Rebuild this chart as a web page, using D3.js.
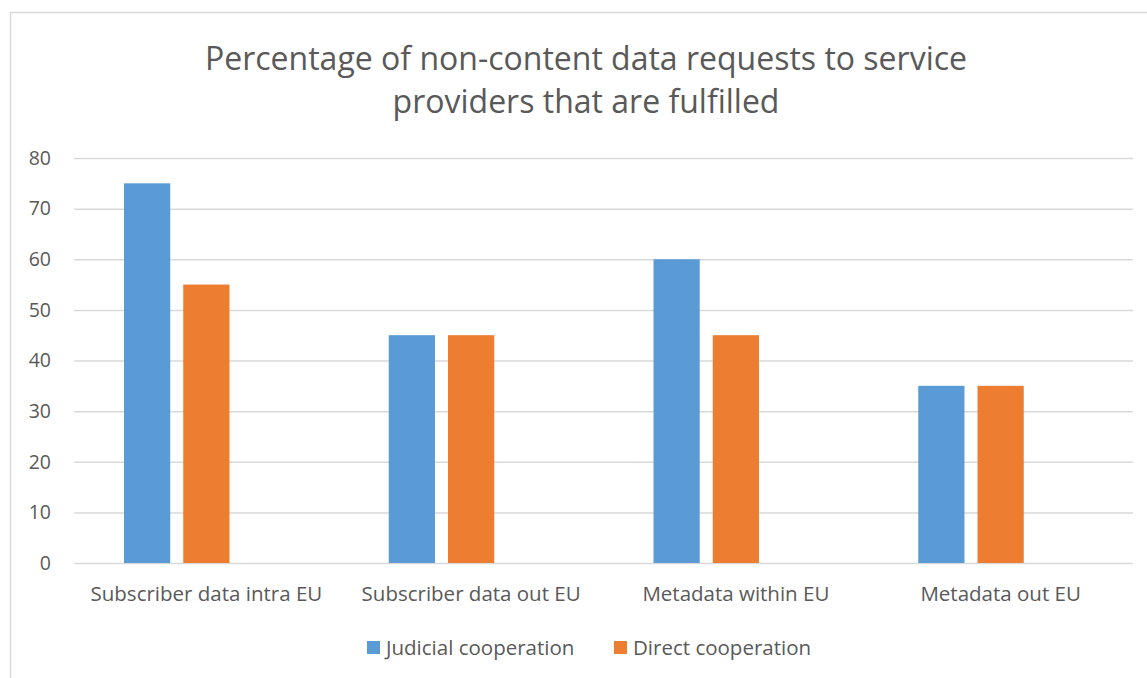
<!DOCTYPE html>
<html>
<head>
<meta charset="utf-8">
<script src="https://cdn.jsdelivr.net/npm/d3@7"></script>
<style>
  body { margin: 0; background: #fff; }
  text { font-family: "Open Sans", "Noto Sans", sans-serif; fill: #595959; }
</style>
</head>
<body>
<div id="viz"></div>
<script>
var categories = ['Subscriber data intra EU', 'Subscriber data out EU', 'Metadata within EU', 'Metadata out EU'];
var seriesNames = ['Judicial cooperation', 'Direct cooperation'];
var judicial = [75, 45, 60, 35];
var direct = [55, 45, 45, 35];
var yTicks = [0, 10, 20, 30, 40, 50, 60, 70, 80];
var titleLines = ['Percentage of non-content data requests to service', 'providers that are fulfilled'];

var width = 1147,
    height = 678;

var colors = ['#5B9BD5', '#ED7D31'];

var svg = d3.select('#viz').append('svg')
  .attr('width', width)
  .attr('height', height)

// chart frame
svg.append('path')
  .attr('d', 'M10.5,' + height + 'V12.5H' + width)
  .attr('fill', 'none')
  .attr('stroke', '#d9d9d9')
  .attr('stroke-width', 1.5)

var plotLeft = 74, plotRight = 1133, plotTop = 158, plotBottom = 563;

var y = d3.scaleLinear()
  .domain([0, 80])
  .range([plotBottom, plotTop])

var x0 = d3.scaleBand()
  .domain(categories)
  .range([plotLeft, plotRight])
  .paddingInner(0)
  .paddingOuter(0)

// excel keeps a third empty series slot in each group
var x1 = d3.scaleBand()
  .domain(['judicial', 'direct', 'empty'])
  .range([50, x0.bandwidth() - 50])
  .paddingInner(0.22)

// gridlines
svg.append('g').selectAll('line')
  .data(yTicks)
  .enter()
  .append('line')
  .attr('x1', plotLeft)
  .attr('x2', plotRight)
  .attr('y1', function(d){ return y(d) + 0.5 })
  .attr('y2', function(d){ return y(d) + 0.5 })
  .attr('stroke', '#d9d9d9')
  .attr('stroke-width', 1.5)

// y labels
svg.append('g').selectAll('text')
  .data(yTicks)
  .enter()
  .append('text')
  .attr('x', 51)
  .attr('y', function(d){ return y(d) })
  .attr('dy', '0.35em')
  .attr('text-anchor', 'end')
  .attr('font-size', 19.5)
  .text(function(d){ return d })

var rows = categories.map(function(c, i){
  return {cat: c, values: [{key: 'judicial', v: judicial[i], c: colors[0]}, {key: 'direct', v: direct[i], c: colors[1]}]}
})

var groups = svg.append('g').selectAll('g')
  .data(rows)
  .enter()
  .append('g')
  .attr('transform', function(d){ return 'translate(' + x0(d.cat) + ',0)' })

groups.selectAll('rect')
  .data(function(d){ return d.values })
  .enter()
  .append('rect')
  .attr('x', function(d){ return x1(d.key) })
  .attr('width', x1.bandwidth())
  .attr('y', function(d){ return y(d.v) })
  .attr('height', function(d){ return y(0) - y(d.v) })
  .attr('fill', function(d){ return d.c })

// category labels
svg.append('g').selectAll('text')
  .data(categories)
  .enter()
  .append('text')
  .attr('x', function(d){ return x0(d) + x0.bandwidth()/2 })
  .attr('y', 601)
  .attr('text-anchor', 'middle')
  .attr('font-size', 20.5)
  .text(function(d){ return d })

// title
svg.append('text')
  .attr('text-anchor', 'middle')
  .attr('font-size', 32)
  .selectAll('tspan')
  .data(titleLines)
  .enter()
  .append('tspan')
  .attr('x', 586)
  .attr('y', function(d, i){ return 70 + i*43 })
  .text(function(d){ return d })

// legend
var legendX = [367, 614];
var legend = svg.append('g').selectAll('g')
  .data(seriesNames)
  .enter()
  .append('g')
  .attr('transform', function(d, i){ return 'translate(' + legendX[i] + ',641)' })

legend.append('rect')
  .attr('width', 13)
  .attr('height', 13)
  .attr('fill', function(d, i){ return colors[i] })

legend.append('text')
  .attr('x', 19)
  .attr('y', 7)
  .attr('dy', '0.35em')
  .attr('font-size', 20.5)
  .text(function(d){ return d })
</script>
</body>
</html>
